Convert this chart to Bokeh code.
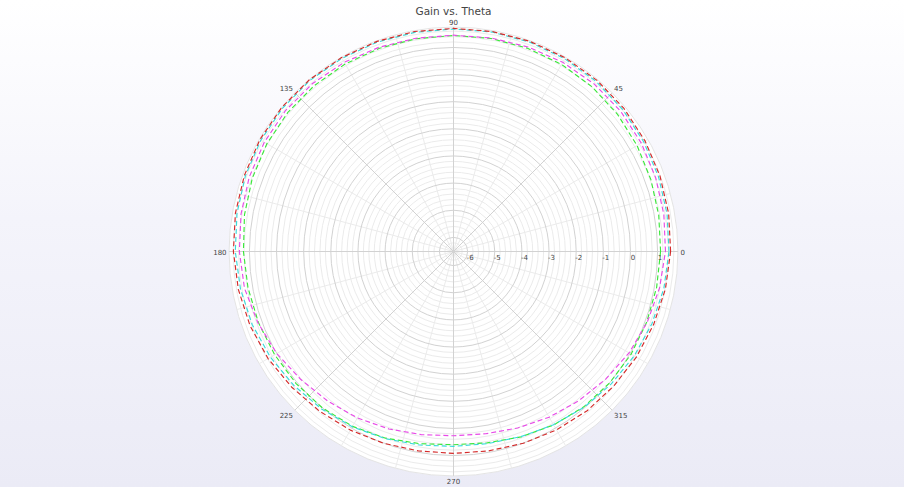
import numpy as np
from bokeh.plotting import figure
from bokeh.models import Range1d
from bokeh.core.properties import value
from bokeh.embed import file_html
from bokeh.resources import INLINE

# ---------------- data ----------------
TITLE = "Gain vs. Theta"
theta_deg = [0, 10, 20, 30, 40, 50, 60, 70, 80, 90, 100, 110, 120, 130, 140, 150, 160, 170,
             180, 190, 200, 210, 220, 230, 240, 250, 260, 270, 280, 290, 300, 310, 320, 330, 340, 350]

gain_red = [1.48, 1.53, 1.58, 1.63, 1.68, 1.71, 1.72, 1.72, 1.71, 1.70, 1.71, 1.72, 1.73, 1.74, 1.74, 1.72, 1.68, 1.64,
            1.59, 1.53, 1.46, 1.37, 1.26, 1.16, 1.08, 1.00, 0.94, 0.92, 0.94, 1.00, 1.07, 1.14, 1.19, 1.26, 1.33, 1.41]
gain_cyan = [1.42, 1.47, 1.52, 1.57, 1.62, 1.66, 1.68, 1.69, 1.69, 1.68, 1.68, 1.69, 1.70, 1.71, 1.70, 1.68, 1.64, 1.58,
             1.52, 1.45, 1.37, 1.27, 1.16, 1.05, 0.94, 0.82, 0.72, 0.66, 0.67, 0.74, 0.85, 0.97, 1.07, 1.17, 1.26, 1.35]
gain_green = [1.11, 1.16, 1.22, 1.29, 1.36, 1.41, 1.44, 1.45, 1.45, 1.44, 1.44, 1.45, 1.46, 1.46, 1.45, 1.42, 1.37, 1.30,
              1.22, 1.17, 1.13, 1.09, 1.05, 1.00, 0.92, 0.80, 0.67, 0.60, 0.64, 0.75, 0.86, 0.95, 1.00, 1.04, 1.06, 1.08]
gain_magenta = [1.29, 1.35, 1.41, 1.47, 1.52, 1.54, 1.53, 1.50, 1.47, 1.45, 1.46, 1.49, 1.53, 1.56, 1.56, 1.53, 1.49, 1.43,
                1.37, 1.30, 1.15, 1.00, 0.82, 0.68, 0.56, 0.44, 0.33, 0.27, 0.30, 0.40, 0.53, 0.66, 0.80, 0.95, 1.08, 1.19]

radial_ticks = [-6, -5, -4, -3, -2, -1, 0, 1]
radial_tick_labels = ["-6", "-5", "-4", "-3", "-2", "-1", "0", "1"]
angular_ticks = [0, 45, 90, 135, 180, 225, 270, 315]
angular_tick_labels = ["0", "45", "90", "135", "180", "225", "270", "315"]

R_MIN, R_MAX = -6.52, 1.75

# ---------------- layout ----------------
W, H = 904, 487
K = 27.14                 # pixels per radial unit
CX, CY = 453, 251         # centre of the polar area (px from top-left)

p = figure(width=W, height=H, output_backend="svg", toolbar_location=None,
           x_range=Range1d(-CX / K, (W - CX) / K), y_range=Range1d(-(H - CY) / K, CY / K),
           min_border=0, x_axis_location=None, y_axis_location=None)
p.grid.visible = False
p.outline_line_color = None
p.background_fill_alpha = 0
p.border_fill_alpha = 0
p.styles = {"background": "linear-gradient(to bottom, #ffffff 0%, #f4f4fb 45%, #ebebf6 100%)"}

def pol(r, deg):
    t = np.deg2rad(np.asarray(deg, dtype=float))
    rr = np.asarray(r, dtype=float) - R_MIN
    return rr * np.cos(t), rr * np.sin(t)

RAD = R_MAX - R_MIN

# white polar disc
p.circle(x=[0], y=[0], radius=RAD, fill_color="white", line_color="#e4e4e4", line_width=1)

# minor circles
minor_r = [v for v in np.round(np.arange(-6.4, 1.61, 0.2), 2) if abs(v - round(v)) > 1e-6]
p.circle(x=[0] * len(minor_r), y=[0] * len(minor_r), radius=[v - R_MIN for v in minor_r],
         fill_color=None, line_color="#ebebeb", line_width=1)
# minor spokes every 15 deg
minor_a = [a for a in range(0, 360, 15) if a % 45 != 0]
ex, ey = pol([R_MAX] * len(minor_a), minor_a)
p.segment(x0=[0] * len(minor_a), y0=[0] * len(minor_a), x1=ex, y1=ey, line_color="#ebebeb", line_width=1)
# major circles
p.circle(x=[0] * len(radial_ticks), y=[0] * len(radial_ticks), radius=[v - R_MIN for v in radial_ticks],
         fill_color=None, line_color="#d2d2d2", line_width=1)
# major spokes
ex, ey = pol([R_MAX] * len(angular_ticks), angular_ticks)
p.segment(x0=[0] * len(angular_ticks), y0=[0] * len(angular_ticks), x1=ex, y1=ey, line_color="#d2d2d2", line_width=1)

# series
series = [(gain_green, "#3ae83a"), (gain_magenta, "#e84ae8"), (gain_cyan, "#3adada"), (gain_red, "#d42a2a")]
for vals, col in series:
    a = theta_deg + [theta_deg[0] + 360]
    v = vals + [vals[0]]
    x, y = pol(v, a)
    p.line(x, y, line_color=col, line_width=1.15, line_dash="5 3")

# radial tick labels
tx, ty = pol(radial_ticks, [0] * len(radial_ticks))
p.text(x=tx + 2.5 / K, y=ty - 2 / K, text=radial_tick_labels, text_font=value("DejaVu Sans"),
       text_font_size="7px", text_color="#444444", text_align="center", text_baseline="top")

# angular tick labels
aligns = {0: ("left", "middle"), 45: ("left", "bottom"), 90: ("center", "bottom"), 135: ("right", "bottom"),
          180: ("right", "middle"), 225: ("right", "top"), 270: ("center", "top"), 315: ("left", "top")}
lx, ly = pol([R_MAX + 2.5 / K] * len(angular_ticks), angular_ticks)
for i, a in enumerate(angular_ticks):
    al, bl = aligns[a]
    p.text(x=[lx[i]], y=[ly[i]], text=[angular_tick_labels[i]], text_font=value("DejaVu Sans"),
           text_font_size="7px", text_color="#444444", text_align=al, text_baseline=bl)

# title
p.text(x=[0], y=[(CY - 10) / K], text=[TITLE], text_font=value("DejaVu Sans"), text_font_size="10.5px",
       text_color="#444444", text_align="center", text_baseline="alphabetic")

open("out.html", "w").write(file_html(p, INLINE))
